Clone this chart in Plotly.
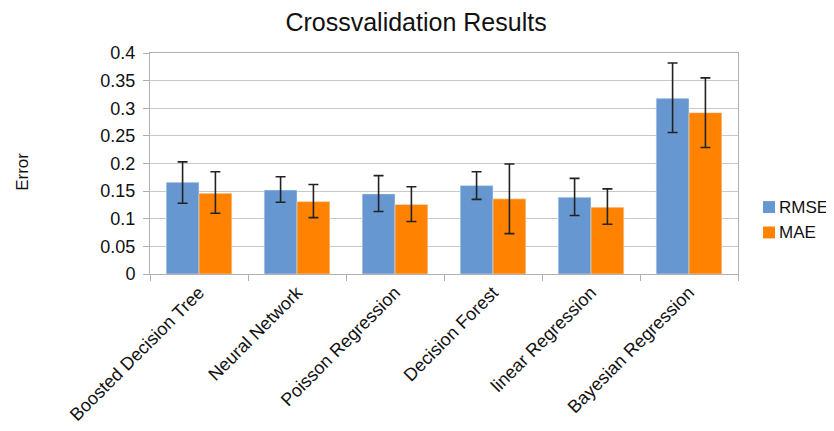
import plotly.graph_objects as go

categories = ["Boosted Decision Tree", "Neural Network", "Poisson Regression",
              "Decision Forest", "linear Regression", "Bayesian Regression"]
rmse = [0.166, 0.152, 0.145, 0.160, 0.139, 0.318]
rmse_hi = [0.203, 0.176, 0.178, 0.185, 0.173, 0.382]
rmse_lo = [0.128, 0.130, 0.113, 0.135, 0.106, 0.256]
mae = [0.146, 0.131, 0.126, 0.136, 0.121, 0.292]
mae_hi = [0.185, 0.162, 0.158, 0.199, 0.154, 0.355]
mae_lo = [0.110, 0.102, 0.095, 0.073, 0.090, 0.229]
series_names = ["RMSE", "MAE"]
series_colors = ["#6797d0", "#ff8300"]

def err(v, hi, lo):
    return dict(type="data", symmetric=False,
                array=[h - x for x, h in zip(v, hi)],
                arrayminus=[x - l for x, l in zip(v, lo)],
                color="#222222", thickness=1.6, width=5)

fig = go.Figure()
fig.add_trace(go.Bar(x=categories, y=rmse, name=series_names[0],
                     marker_color=series_colors[0],
                     error_y=err(rmse, rmse_hi, rmse_lo)))
fig.add_trace(go.Bar(x=categories, y=mae, name=series_names[1],
                     marker_color=series_colors[1],
                     error_y=err(mae, mae_hi, mae_lo)))

font = "Liberation Sans, Arial, sans-serif"
annotations = [dict(text="Error", x=-0.218, xref="paper", y=0.4615, yref="paper",
                    xanchor="center", yanchor="middle", textangle=-90,
                    showarrow=False, font=dict(size=17))]
shapes = []
# legend swatches and labels (drawn manually to match the reference spacing)
leg_y = [0.303, 0.188]
for name, color, yc in zip(series_names, series_colors, leg_y):
    shapes.append(dict(type="rect", xref="paper", yref="paper",
                       x0=1.0425, x1=1.0629, y0=yc - 0.027, y1=yc + 0.027,
                       fillcolor=color, line=dict(width=0)))
    annotations.append(dict(text=name, x=1.066, xref="paper", y=yc, yref="paper",
                            xanchor="left", yanchor="middle", showarrow=False,
                            font=dict(size=17)))

fig.update_layout(
    width=826, height=423,
    margin=dict(l=142, r=96, t=45, b=157, autoexpand=False),
    paper_bgcolor="white", plot_bgcolor="white",
    barmode="group", bargap=0.33, bargroupgap=0,
    font=dict(family=font, size=17, color="#111111"),
    title=dict(text="Crossvalidation Results", x=0.494, xref="container",
               y=0.967, yref="container", xanchor="center", yanchor="middle",
               font=dict(size=25, color="#111111")),
    showlegend=False,
    annotations=annotations,
    shapes=shapes,
)
fig.update_yaxes(range=[0, 0.4], dtick=0.05, showgrid=True, gridcolor="#c8c8c8",
                 gridwidth=1.4, ticks="outside", ticklen=6, tickcolor="#b0b0b0",
                 showline=True, linecolor="#b0b0b0", mirror=True, zeroline=False,
                 tickfont=dict(size=18), ticklabelstandoff=4, automargin=False)
fig.update_xaxes(tickangle=-45, tickson="boundaries", ticks="outside", ticklen=6,
                 tickcolor="#b0b0b0", showline=True, linecolor="#b0b0b0", mirror=True,
                 tickfont=dict(size=18), automargin=False)

fig.write_html("out.html")
